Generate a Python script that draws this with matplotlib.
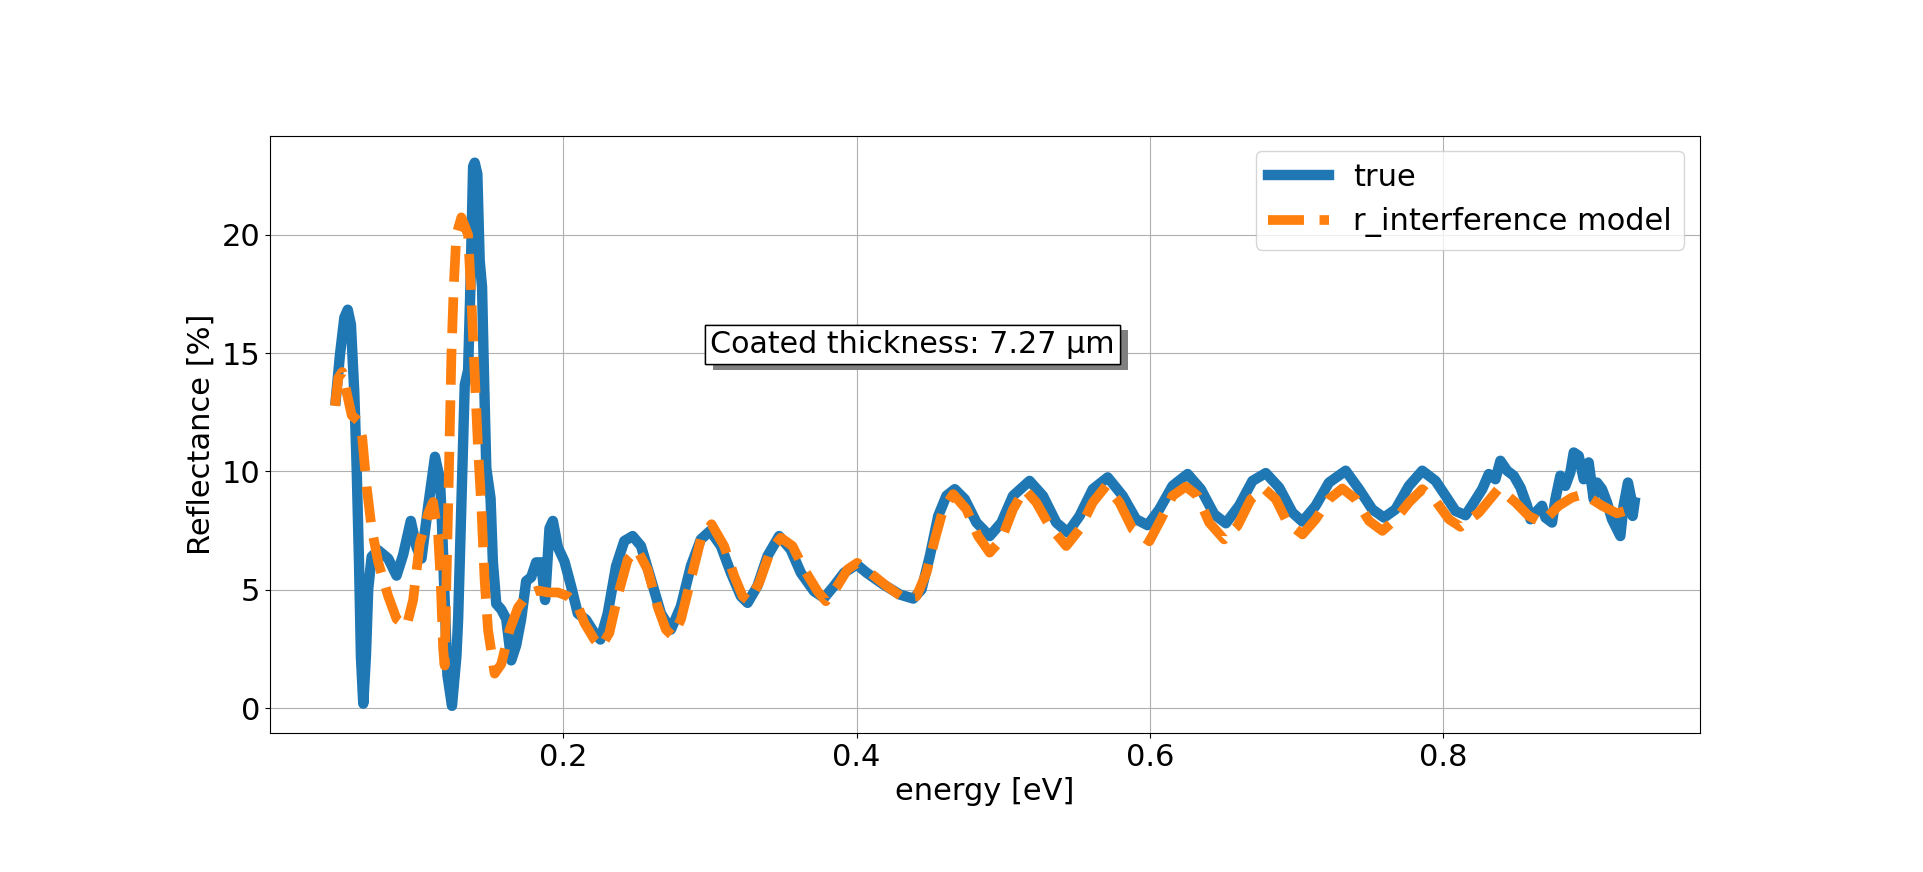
#!/usr/bin/env python
# -*- coding: utf-8 -*-

"""Reflectance spectrum: measured vs r_interference model."""

import matplotlib as mpl; mpl.use('agg')
import matplotlib.pyplot as plt
import matplotlib.patheffects as pe

# --- data
energy_true = [
    0.0447, 0.0476, 0.0506, 0.0529, 0.0551, 0.0574, 0.0590, 0.0606, 0.0619, 0.0635,
    0.0653, 0.0669, 0.0692, 0.0737, 0.0805, 0.0862, 0.0907, 0.0959, 0.0998, 0.1032,
    0.1078, 0.1124, 0.1158, 0.1173, 0.1190, 0.1209, 0.1240, 0.1270, 0.1282, 0.1304,
    0.1327, 0.1350, 0.1367, 0.1384, 0.1395, 0.1413, 0.1429, 0.1445, 0.1458, 0.1474,
    0.1503, 0.1519, 0.1542, 0.1576, 0.1610, 0.1644, 0.1678, 0.1712, 0.1746, 0.1780,
    0.1814, 0.1848, 0.1875, 0.1905, 0.1928, 0.1962, 0.2007, 0.2052, 0.2098, 0.2154,
    0.2211, 0.2252, 0.2302, 0.2359, 0.2415, 0.2472, 0.2529, 0.2597, 0.2665, 0.2733,
    0.2801, 0.2869, 0.2937, 0.3001, 0.3074, 0.3142, 0.3210, 0.3256, 0.3323, 0.3392,
    0.3471, 0.3550, 0.3619, 0.3709, 0.3778, 0.3845, 0.3914, 0.4000, 0.4068, 0.4181,
    0.4295, 0.4386, 0.4442, 0.4499, 0.4556, 0.4612, 0.4669, 0.4737, 0.4817, 0.4907,
    0.4987, 0.5066, 0.5179, 0.5270, 0.5361, 0.5440, 0.5520, 0.5610, 0.5712, 0.5814,
    0.5905, 0.5984, 0.6064, 0.6154, 0.6257, 0.6347, 0.6438, 0.6518, 0.6608, 0.6699,
    0.6790, 0.6881, 0.6972, 0.7040, 0.7130, 0.7221, 0.7335, 0.7426, 0.7516, 0.7596,
    0.7675, 0.7766, 0.7857, 0.7948, 0.8016, 0.8084, 0.8152, 0.8209, 0.8266, 0.8311,
    0.8356, 0.8390, 0.8436, 0.8481, 0.8527, 0.8572, 0.8595, 0.8629, 0.8674, 0.8697,
    0.8742, 0.8765, 0.8799, 0.8833, 0.8867, 0.8890, 0.8924, 0.8958, 0.8992, 0.9026,
    0.9049, 0.9083, 0.9117, 0.9151, 0.9185, 0.9208, 0.9230, 0.9260, 0.9283, 0.9292,
    0.9305,
]
refl_true = [
    13.00, 14.92, 16.50, 16.83, 16.20, 13.30, 10.14, 6.16, 2.18, 0.19,
    2.18, 5.05, 6.40, 6.67, 6.32, 5.60, 6.48, 7.91, 6.80, 6.32,
    8.55, 10.62, 9.67, 7.60, 4.57, 1.39, 0.10, 2.18, 3.77, 8.55,
    13.65, 14.28, 18.10, 22.88, 23.04, 22.56, 18.90, 17.79, 14.12, 10.14,
    8.87, 6.16, 4.41, 4.17, 3.77, 2.02, 2.66, 3.77, 5.37, 5.53,
    6.16, 6.16, 4.57, 7.60, 7.91, 6.80, 6.20, 5.16, 4.00, 3.74,
    3.18, 2.90, 4.00, 6.00, 7.06, 7.27, 6.85, 5.44, 4.00, 3.32,
    4.30, 6.00, 7.13, 7.49, 6.85, 5.72, 4.73, 4.45, 5.16, 6.43,
    7.27, 6.70, 5.72, 4.94, 4.66, 5.16, 5.72, 6.07, 5.72, 5.23,
    4.80, 4.63, 5.01, 6.43, 8.12, 8.97, 9.25, 8.83, 7.84, 7.27,
    7.84, 8.97, 9.60, 8.97, 7.84, 7.42, 8.12, 9.25, 9.75, 8.97,
    7.98, 7.73, 8.40, 9.39, 9.89, 9.25, 8.19, 7.81, 8.55, 9.60,
    9.93, 9.32, 8.26, 7.88, 8.55, 9.53, 10.03, 9.25, 8.40, 8.05,
    8.40, 9.39, 10.03, 9.60, 8.97, 8.33, 8.15, 8.69, 9.25, 9.89,
    9.67, 10.45, 10.03, 9.82, 9.32, 8.55, 7.98, 8.26, 8.55, 8.05,
    7.84, 8.83, 9.82, 9.39, 9.96, 10.80, 10.66, 9.67, 10.38, 8.83,
    9.53, 9.25, 8.69, 7.98, 7.56, 7.27, 8.55, 9.53, 8.83, 8.12,
    8.69,
]

energy_model = [
    0.0442, 0.0465, 0.0492, 0.0522, 0.0556, 0.0601, 0.0628, 0.0658, 0.0692, 0.0737,
    0.0805, 0.0862, 0.0930, 0.0975, 0.1020, 0.1078, 0.1111, 0.1146, 0.1163, 0.1180,
    0.1190, 0.1202, 0.1214, 0.1225, 0.1236, 0.1252, 0.1270, 0.1304, 0.1350, 0.1372,
    0.1395, 0.1418, 0.1440, 0.1463, 0.1486, 0.1531, 0.1576, 0.1633, 0.1690, 0.1758,
    0.1826, 0.1894, 0.1962, 0.2030, 0.2098, 0.2143, 0.2211, 0.2257, 0.2313, 0.2370,
    0.2438, 0.2502, 0.2574, 0.2642, 0.2699, 0.2745, 0.2801, 0.2869, 0.2937, 0.3010,
    0.3096, 0.3165, 0.3222, 0.3267, 0.3335, 0.3415, 0.3483, 0.3562, 0.3642, 0.3733,
    0.3790, 0.3868, 0.3937, 0.4004, 0.4091, 0.4204, 0.4318, 0.4408, 0.4476, 0.4533,
    0.4590, 0.4658, 0.4748, 0.4828, 0.4907, 0.4987, 0.5066, 0.5145, 0.5225, 0.5315,
    0.5429, 0.5520, 0.5610, 0.5701, 0.5792, 0.5882, 0.5996, 0.6075, 0.6154, 0.6245,
    0.6325, 0.6404, 0.6506, 0.6597, 0.6688, 0.6778, 0.6858, 0.6937, 0.7040, 0.7130,
    0.7221, 0.7312, 0.7403, 0.7494, 0.7585, 0.7675, 0.7766, 0.7857, 0.7948, 0.8039,
    0.8118, 0.8243, 0.8379, 0.8493, 0.8583, 0.8674, 0.8788, 0.8879, 0.8958, 0.9083,
    0.9185, 0.9276,
]
refl_model = [
    12.77, 13.96, 14.20, 13.33, 12.37, 12.13, 11.42, 9.35, 7.60, 6.16,
    4.73, 3.77, 3.46, 4.57, 6.96, 8.23, 8.71, 7.28, 5.37, 2.50,
    1.80, 5.37, 8.55, 11.74, 14.90, 17.80, 20.00, 20.73, 20.00, 17.30,
    14.12, 10.94, 8.55, 5.37, 3.30, 1.46, 1.86, 3.30, 4.25, 4.81,
    4.97, 4.89, 4.89, 4.73, 4.33, 3.60, 2.90, 2.60, 3.18, 4.73,
    6.28, 6.70, 5.86, 4.30, 3.32, 3.04, 3.74, 5.44, 7.13, 7.77,
    6.85, 5.58, 4.73, 4.52, 5.30, 6.70, 7.20, 6.85, 5.86, 4.94,
    4.52, 5.16, 5.86, 6.14, 5.72, 5.16, 4.66, 4.73, 5.72, 7.13,
    8.40, 9.04, 8.40, 7.27, 6.57, 7.13, 8.40, 9.25, 8.69, 7.70,
    6.85, 7.56, 8.69, 9.39, 8.69, 7.56, 7.05, 7.98, 8.97, 9.36,
    8.97, 7.84, 7.13, 7.70, 8.83, 9.28, 8.83, 7.84, 7.34, 7.98,
    8.83, 9.28, 8.83, 7.91, 7.49, 7.98, 8.69, 9.25, 8.76, 7.98,
    7.66, 8.26, 9.28, 8.69, 8.12, 7.84, 8.55, 8.90, 9.04, 8.55,
    8.23, 8.40,
]

thickness_um = 7.27

# --- plot
plt.rcParams['font.size'] = 22
fig, ax = plt.subplots(figsize=(19.23, 8.72), dpi=100)
fig.subplots_adjust(left=0.1404, right=0.8838, bottom=0.1594, top=0.8446)

ax.plot(energy_true, refl_true, color='tab:blue', lw=7.5,
        solid_joinstyle='round', label='true')
ax.plot(energy_model, refl_model, color='tab:orange', lw=7, ls='--',
        dash_joinstyle='round', label='r_interference model')

# annotation box with a grey drop shadow
txt = ax.text(0.3, 15, f'Coated thickness: {thickness_um} µm', fontsize=21.7,
              bbox=dict(facecolor='white', edgecolor='black'))
txt.get_bbox_patch().set_path_effects([
    pe.withSimplePatchShadow(offset=(6, -4), shadow_rgbFace='grey', alpha=1.0),
    pe.Normal(),
])

ax.set_xlabel('energy [eV]')
ax.set_ylabel('Reflectance [%]')
ax.set_xticks([0.2, 0.4, 0.6, 0.8])
ax.set_yticks([0, 5, 10, 15, 20])
ax.grid(True)
ax.legend(loc='upper right')

fig.savefig('out.png', dpi=100)
